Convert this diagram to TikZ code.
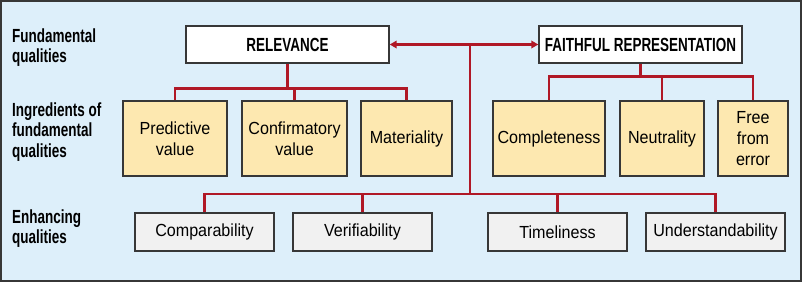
\documentclass[tikz,border=0pt]{standalone}
\usepackage{fontspec}
\setmainfont{Liberation Sans}[FakeStretch=0.92]
\newfontfamily\headfont{Liberation Sans Bold}[FakeStretch=0.71]
\definecolor{skyback}{RGB}{221, 239, 250}
\definecolor{sand1}{RGB}{253, 232, 176}
\definecolor{grey1}{RGB}{241, 241, 241}
\definecolor{wine1}{RGB}{176, 24, 38}
\definecolor{edge1}{RGB}{55, 55, 55}
\usetikzlibrary{arrows.meta, positioning, calc}

\tikzset{
  rowlabel/.style={anchor=west, align=left, inner sep=0pt, font=\headfont\fontsize{19}{20.5}\selectfont},
  quality/.style={draw=edge1, line width=1.4pt, fill=white, minimum height=37pt, inner sep=0pt, font=\headfont\fontsize{19}{20}\selectfont},
  ingredient/.style={draw=edge1, line width=1.2pt, fill=sand1, minimum height=75pt, inner sep=0pt, align=center, font=\fontsize{17.5}{21}\selectfont},
  enhancer/.style={draw=edge1, line width=1.2pt, fill=grey1, minimum width=139pt, minimum height=38pt, inner sep=0pt, font=\fontsize{17.5}{21}\selectfont},
  link/.style={draw=wine1, line width=2.8pt}
}

\begin{document}
\begin{tikzpicture}[x=1pt, y=-1pt]
  \useasboundingbox (0,0) rectangle (802,282);
  \draw[draw=edge1, fill=skyback, line width=1.6pt] (1,1) rectangle (801,281);

  % row captions
  \node[rowlabel] (capfund) at (12,47.5) {Fundamental\\qualities};
  \node[rowlabel] (capingr) at (12,132) {Ingredients of\\fundamental\\qualities};
  \node[rowlabel] (capenh) at (12,228.5) {Enhancing\\qualities};

  % fundamental qualities
  \node[quality, minimum width=203pt] (rel) at (287.5,44.5) {RELEVANCE};
  \node[quality, minimum width=203pt] (faith) at (640.5,44.5) {FAITHFUL REPRESENTATION};

  % ingredients
  \node[ingredient, minimum width=104pt] (pred) at (175,138.5) {Predictive\\value};
  \node[ingredient, minimum width=105pt] (conf) at (294.5,138.5) {Confirmatory\\value};
  \node[ingredient, minimum width=91pt] (mat) at (406.5,138.5) {Materiality};
  \node[ingredient, minimum width=112pt] (compl) at (549,138.5) {Completeness};
  \node[ingredient, minimum width=84pt] (neut) at (662,138.5) {Neutrality};
  \node[ingredient, minimum width=70pt] (free) at (753,138.5) {Free\\from\\error};

  % enhancing qualities
  \node[enhancer] (compar) at (204.5,232) {Comparability};
  \node[enhancer] (verif) at (362.5,232) {Verifiability};
  \node[enhancer] (timely) at (557.5,232) {Timeliness};
  \node[enhancer] (under) at (715.5,232) {Understandability};

  % connectors
  \draw[link, {Triangle[length=7pt, width=7.5pt]}-{Triangle[length=7pt, width=7.5pt]}] (rel.east) -- (faith.west);
  \coordinate (hub) at (470,44.5);
  \coordinate (enhbar) at (470,194);
  \draw[link] (hub) -- (enhbar);

  \draw[link] (rel.south) -- ++(0,25) coordinate (relbar);
  \draw[link] (pred.north) |- (mat.north |- relbar) -- (mat.north);
  \draw[link] (conf.north) -- (conf.north |- relbar);

  \draw[link] (faith.south) -- ++(0,13) coordinate (faithbar);
  \draw[link] (compl.north) |- (free.north |- faithbar) -- (free.north);
  \draw[link] (neut.north) -- (neut.north |- faithbar);

  \draw[link] (compar.north) |- (under.north |- enhbar) -- (under.north);
  \draw[link] (verif.north) -- (verif.north |- enhbar);
  \draw[link] (timely.north) -- (timely.north |- enhbar);
\end{tikzpicture}
\end{document}
